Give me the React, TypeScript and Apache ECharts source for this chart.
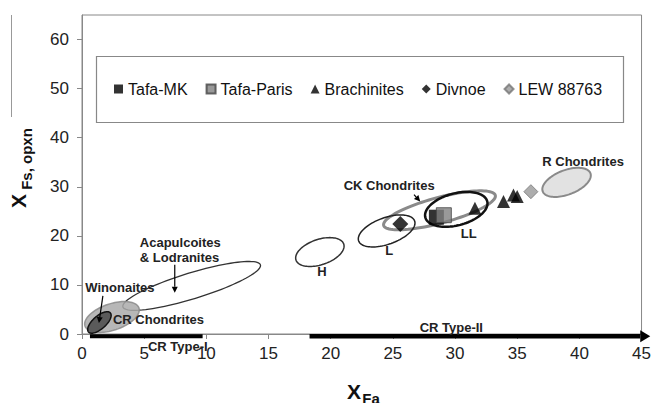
import React, { useEffect, useRef } from 'react';
import * as echarts from 'echarts';

const FONT = '"Liberation Sans", Arial, Helvetica, sans-serif';

// Meteorite samples [X_Fa, X_Fs]
const tafaMK = [[28.5, 23.8]];
const tafaParis = [[29.1, 24.2]];
const brachinites = [[31.6, 25.6], [33.9, 27.0], [34.7, 28.3], [35.0, 28.0]];
const divnoe = [[25.6, 22.4]];
const lew88763 = [[36.1, 29.0]];

// Compositional fields: centre + two conjugate semi-diameters (data units)
const fieldNames = ['Acapulcoites & Lodranites', 'CR Chondrites', 'Winonaites', 'H', 'CK Chondrites', 'L', 'LL', 'R Chondrites'];
const fieldCx = [8.82, 2.41, 1.4, 19.13, 28.75, 24.5, 30.1, 38.97];
const fieldCy = [9.8, 3.47, 2.35, 16.7, 25.2, 21.0, 25.4, 30.9];
const fieldUx = [5.53, 2.17, 0.88, 1.92, 4.49, 2.25, 2.49, 1.92];
const fieldUy = [4.29, 1.84, 1.94, 1.63, 3.06, 2.04, 1.63, 1.84];
const fieldVx = [0.3, 0.34, 0.34, 0.32, 0.26, 0.36, 0.32, 0.34];
const fieldVy = [-2.53, -2.55, -1.01, -2.45, -2.53, -2.55, -3.16, -2.33];

// Annotation texts
const labelText = ['Winonaites', 'CR Chondrites', 'Acapulcoites', '& Lodranites', 'H', 'L', 'LL', 'CK Chondrites', 'R Chondrites', 'CR Type-I', 'CR Type-II'];
const labelX = [3.05, 2.49, 4.65, 4.65, 19.3, 24.7, 31.1, 24.7, 40.3, 7.7, 29.7];
const labelY = [9.4, 2.86, 18.6, 15.5, 12.7, 17.1, 20.4, 30.2, 35.1, -2.45, 1.4];

// Arrows / bars [x1, y1, x2, y2]
const arrowNames = ['Winonaites', 'Acapulcoites', 'CK', 'CR Type-I', 'CR Type-II'];
const arrowX1 = [1.68, 7.46, 26.7, 0.64, 18.3];
const arrowY1 = [7.76, 14.1, 28.4, -0.45, -0.45];
const arrowX2 = [1.36, 7.46, 27.2, 9.7, 45.7];
const arrowY2 = [2.24, 8.4, 27.0, -0.45, -0.45];

const fieldStyles = [
  { fill: 'none', stroke: '#333', lineWidth: 1.3 },
  { fill: '#aaaaaa', stroke: '#8a8a8a', lineWidth: 1.5, opacity: 0.85 },
  { fill: '#5a5a5a', stroke: '#111', lineWidth: 1.5 },
  { fill: 'none', stroke: '#333', lineWidth: 1.5 },
  { fill: 'none', stroke: '#8a8a8a', lineWidth: 3 },
  { fill: 'none', stroke: '#222', lineWidth: 1.5 },
  { fill: 'none', stroke: '#111', lineWidth: 2.5 },
  { fill: '#e2e2e2', stroke: '#8a8a8a', lineWidth: 2 },
];
const labelAlign = ['center', 'left', 'left', 'left', 'center', 'center', 'center', 'center', 'center', 'center', 'center'];
const arrowStyles = [
  { w: 1.2, head: 6, hw: 3 },
  { w: 1.2, head: 6, hw: 3 },
  { w: 1.2, head: 6, hw: 3 },
  { w: 4, head: 0, hw: 0 },
  { w: 4.5, head: 10, hw: 6 },
];

export default function App() {
  const ref = useRef<HTMLDivElement>(null);
  useEffect(() => {
    if (!ref.current) return;
    const chart = echarts.init(ref.current, undefined, { renderer: 'svg' });
    const scatterBase = { type: 'scatter', z: 5 };
    chart.setOption({
      animation: false,
      backgroundColor: '#fff',
      textStyle: { fontFamily: FONT },
      grid: { left: 82, right: 11, top: 15, bottom: 69, show: true, borderColor: '#888', borderWidth: 1 },
      xAxis: {
        type: 'value', min: 0, max: 45, interval: 5,
        axisLine: { lineStyle: { color: '#888', width: 1 } },
        axisTick: { show: true, length: 5, lineStyle: { color: '#888' } },
        axisLabel: { fontSize: 17, color: '#222', margin: 11, fontFamily: FONT },
        splitLine: { show: false },
      },
      yAxis: {
        type: 'value', min: 0, max: 65, interval: 10,
        axisLine: { show: true, lineStyle: { color: '#888', width: 1 } },
        axisTick: { show: true, length: 5, lineStyle: { color: '#888' } },
        axisLabel: { fontSize: 17, color: '#222', margin: 13, fontFamily: FONT, showMaxLabel: false },
        splitLine: { show: false },
      },
      legend: {
        data: [
          { name: 'Tafa-MK', icon: 'rect' },
          { name: 'Tafa-Paris', icon: 'rect' },
          { name: 'Brachinites', icon: 'triangle' },
          { name: 'Divnoe', icon: 'diamond' },
          { name: 'LEW 88763', icon: 'diamond' },
        ],
        left: 114, top: 81, padding: 0, itemWidth: 9, itemHeight: 9, itemGap: 18,
        textStyle: { fontSize: 16, color: '#111', fontFamily: FONT },
      },
      graphic: [
        { type: 'rect', shape: { x: 96.5, y: 56.5, width: 527, height: 66 }, style: { fill: 'none', stroke: '#888', lineWidth: 1.2 }, z: -1 },
        { type: 'line', shape: { x1: 11.5, y1: 15, x2: 11.5, y2: 117 }, style: { stroke: '#999', lineWidth: 1 } },
        { type: 'text', x: 354, y: 391, style: { text: 'X', font: `bold 21px ${FONT}`, fill: '#111', align: 'center', verticalAlign: 'middle' } },
        { type: 'text', x: 371, y: 398, style: { text: 'Fa', font: `bold 15px ${FONT}`, fill: '#111', align: 'center', verticalAlign: 'middle' } },
        { type: 'text', x: 18, y: 201, rotation: Math.PI / 2, style: { text: 'X', font: `bold 21px ${FONT}`, fill: '#111', align: 'center', verticalAlign: 'middle' } },
        { type: 'text', x: 26, y: 159, rotation: Math.PI / 2, style: { text: 'Fs, opxn', font: `bold 15px ${FONT}`, fill: '#111', align: 'center', verticalAlign: 'middle' } },
      ],
      series: [
        {
          type: 'custom', name: 'fields', silent: true, z: 2,
          data: fieldNames.map((_, i) => [fieldCx[i], fieldCy[i], fieldUx[i], fieldUy[i], fieldVx[i], fieldVy[i]]),
          renderItem: (params: any, api: any) => {
            const i = params.dataIndex;
            const cx = api.value(0), cy = api.value(1), ux = api.value(2), uy = api.value(3), vx = api.value(4), vy = api.value(5);
            const pts: number[][] = [];
            for (let k = 0; k < 96; k++) {
              const t = (k / 96) * Math.PI * 2;
              pts.push(api.coord([cx + ux * Math.cos(t) + vx * Math.sin(t), cy + uy * Math.cos(t) + vy * Math.sin(t)]));
            }
            return { type: 'polygon', shape: { points: pts }, style: { ...fieldStyles[i] } };
          },
        },
        {
          type: 'custom', name: 'arrows', silent: true, z: 3,
          data: arrowNames.map((_, i) => [arrowX1[i], arrowY1[i], arrowX2[i], arrowY2[i]]),
          renderItem: (params: any, api: any) => {
            const i = params.dataIndex;
            const s = arrowStyles[i];
            const p1 = api.coord([api.value(0), api.value(1)]);
            const p2 = api.coord([api.value(2), api.value(3)]);
            const dx = p2[0] - p1[0], dy = p2[1] - p1[1];
            const len = Math.hypot(dx, dy);
            const ux = dx / len, uy = dy / len;
            const base = [p2[0] - ux * s.head, p2[1] - uy * s.head];
            const children: any[] = [
              { type: 'line', shape: { x1: p1[0], y1: p1[1], x2: base[0], y2: base[1] }, style: { stroke: '#000', lineWidth: s.w } },
            ];
            if (s.head > 0) {
              children.push({
                type: 'polygon',
                shape: { points: [p2, [base[0] - uy * s.hw, base[1] + ux * s.hw], [base[0] + uy * s.hw, base[1] - ux * s.hw]] },
                style: { fill: '#000' },
              });
            }
            return { type: 'group', children };
          },
        },
        {
          type: 'custom', name: 'labels', silent: true, z: 6,
          data: labelText.map((_, i) => [labelX[i], labelY[i]]),
          renderItem: (params: any, api: any) => {
            const i = params.dataIndex;
            const p = api.coord([api.value(0), api.value(1)]);
            return {
              type: 'text', x: p[0], y: p[1],
              style: { text: labelText[i], font: `bold 13px ${FONT}`, fill: '#222', align: labelAlign[i], verticalAlign: 'middle' },
            };
          },
        },
        { ...scatterBase, name: 'Tafa-MK', data: tafaMK, symbol: 'rect', symbolSize: 15, itemStyle: { color: '#000' } },
        { ...scatterBase, name: 'Tafa-Paris', data: tafaParis, symbol: 'rect', symbolSize: 15, itemStyle: { color: '#808080', borderColor: '#444', borderWidth: 1 } },
        { ...scatterBase, name: 'Brachinites', data: brachinites, symbol: 'triangle', symbolSize: 13, itemStyle: { color: '#000' } },
        { ...scatterBase, name: 'Divnoe', data: divnoe, symbol: 'diamond', symbolSize: 16, itemStyle: { color: '#000' } },
        { ...scatterBase, name: 'LEW 88763', data: lew88763, symbol: 'diamond', symbolSize: 14, itemStyle: { color: '#999', borderColor: '#777', borderWidth: 1 } },
      ],
    });
    return () => chart.dispose();
  }, []);
  return <div ref={ref} style={{ position: 'fixed', left: 0, top: 0, width: 654, height: 403 }} />;
}
